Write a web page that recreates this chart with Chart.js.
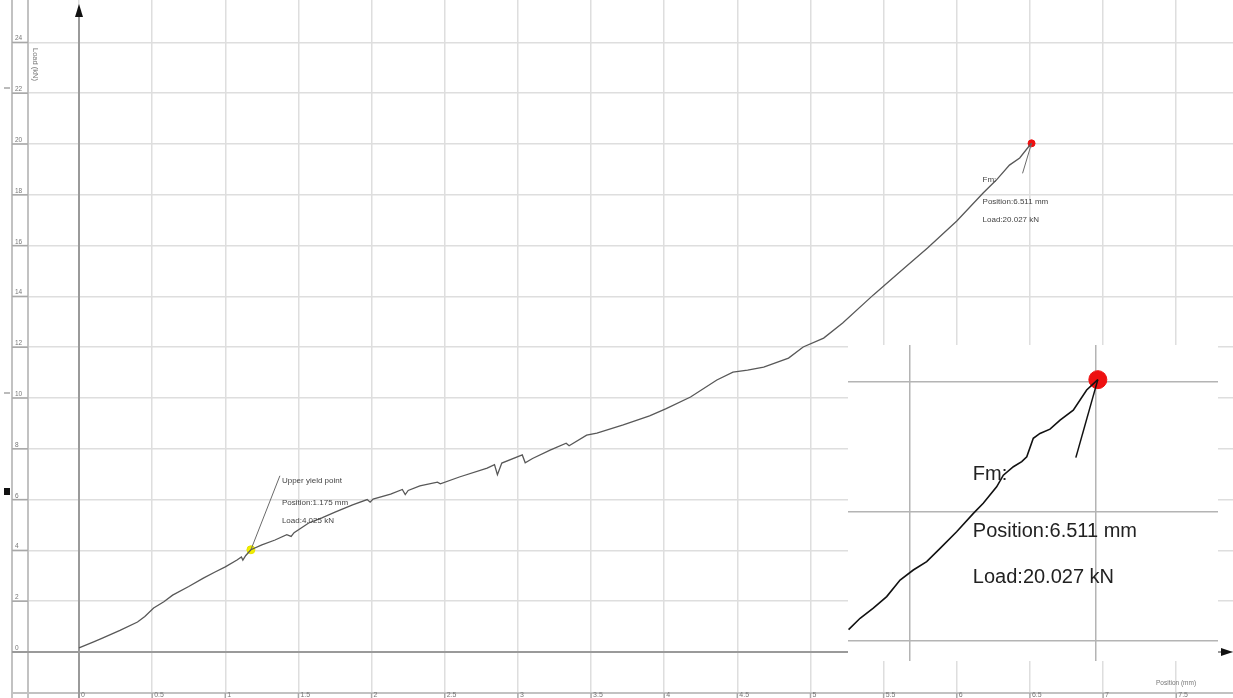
<!DOCTYPE html>
<html>
<head>
<meta charset="utf-8">
<script src="https://cdn.jsdelivr.net/npm/chart.js@4.4.1/dist/chart.umd.min.js"></script>
<style>
  html, body { margin: 0; padding: 0; background: #fff; overflow: hidden; }
  #wrap { position: relative; width: 1233px; height: 698px; }
  #main { position: absolute; left: 0; top: 0; }
  #zoom { position: absolute; left: 848px; top: 345px; background: #fff; }
</style>
</head>
<body>
<div id="wrap">
  <canvas id="main" width="1233" height="698"></canvas>
  <canvas id="zoom" width="370" height="316"></canvas>
</div>
<script>
// Tensile test record: crosshead position (mm) against load (kN)
const positionMm = [
  0.00, 0.10, 0.16, 0.28, 0.40, 0.45, 0.51, 0.58, 0.64, 0.75,
  0.85, 0.93, 1.00, 1.08, 1.11, 1.12, 1.14, 1.175, 1.25, 1.34,
  1.42, 1.45, 1.47, 1.57, 1.66, 1.75, 1.87, 1.97, 1.99, 2.01,
  2.13, 2.21, 2.23, 2.25, 2.33, 2.45, 2.47, 2.60, 2.79, 2.84,
  2.86, 2.89, 3.03, 3.05, 3.10, 3.22, 3.33, 3.35, 3.47, 3.54,
  3.72, 3.90, 4.01, 4.18, 4.36, 4.47, 4.57, 4.68, 4.85, 4.95,
  5.09, 5.22, 5.43, 5.61, 5.80, 6.00, 6.18, 6.27, 6.36, 6.43,
  6.50, 6.511
];
const loadKn = [
  0.16, 0.40, 0.55, 0.85, 1.18, 1.40, 1.73, 1.98, 2.24, 2.58,
  2.91, 3.15, 3.35, 3.62, 3.74, 3.62, 3.80, 4.025, 4.22, 4.41,
  4.62, 4.55, 4.70, 5.08, 5.28, 5.51, 5.79, 6.00, 5.90, 6.02,
  6.22, 6.40, 6.20, 6.36, 6.54, 6.69, 6.62, 6.89, 7.24, 7.38,
  6.98, 7.44, 7.76, 7.45, 7.62, 7.95, 8.22, 8.12, 8.54, 8.62,
  8.94, 9.30, 9.57, 10.04, 10.71, 11.02, 11.10, 11.22, 11.57, 12.01,
  12.36, 12.95, 14.06, 14.96, 15.91, 16.97, 18.07, 18.58, 19.17, 19.45,
  19.96, 20.027
];

// Axis ticks
const xTickValues = [0, 0.5, 1, 1.5, 2, 2.5, 3, 3.5, 4, 4.5, 5, 5.5, 6, 6.5, 7, 7.5];
const xTickLabels = ['0', '0.5', '1', '1.5', '2', '2.5', '3', '3.5', '4', '4.5', '5', '5.5', '6', '6.5', '7', '7.5'];
const yTickValues = [0, 2, 4, 6, 8, 10, 12, 14, 16, 18, 20, 22, 24];
const yTickLabels = ['0', '2', '4', '6', '8', '10', '12', '14', '16', '18', '20', '22', '24'];

// Marked points
const yieldPos = [1.175];
const yieldLoad = [4.025];
const yieldText = ['Upper yield point', 'Position:1.175 mm', 'Load:4.025 kN'];
const maxPos = [6.511];
const maxLoad = [20.027];
const maxText = ['Fm:', 'Position:6.511 mm', 'Load:20.027 kN'];

// Magnified view around the maximum force
const zoomPositionMm = [
  6.3770, 6.3832, 6.3903, 6.3975, 6.4047, 6.4118, 6.4190, 6.4262, 6.4351, 6.4441,
  6.4494, 6.4566, 6.4602, 6.4656, 6.4701, 6.4728, 6.4763, 6.4799, 6.4853, 6.4907,
  6.4978, 6.5050, 6.511
];
const zoomLoadKn = [
  19.255, 19.290, 19.321, 19.357, 19.408, 19.439, 19.465, 19.506, 19.557, 19.614,
  19.645, 19.696, 19.732, 19.758, 19.774, 19.789, 19.846, 19.861, 19.874, 19.902,
  19.933, 19.995, 20.027
];
const zoomGridX = [6.41, 6.51];
const zoomGridY = [19.22, 19.62, 20.02];

const FONT = '"Liberation Sans", Arial, sans-serif';

const frame = {
  id: 'frame',
  beforeDatasetsDraw(chart) {
    const { ctx } = chart;
    const xs = chart.scales.x, ys = chart.scales.y;
    const W = chart.width, H = chart.height;
    const x0 = xs.getPixelForValue(0);
    const y0 = ys.getPixelForValue(0);
    ctx.save();

    // left label strip and bottom label strip
    ctx.strokeStyle = '#c2c2c2';
    ctx.lineWidth = 2;
    ctx.beginPath();
    ctx.moveTo(12, 0); ctx.lineTo(12, H);
    ctx.moveTo(28, 0); ctx.lineTo(28, H);
    ctx.moveTo(12, 693); ctx.lineTo(W, 693);
    ctx.stroke();

    ctx.strokeStyle = '#a8a8a8';
    ctx.lineWidth = 1.5;
    ctx.fillStyle = '#777';
    ctx.font = '6.5px ' + FONT;
    ctx.textBaseline = 'alphabetic';
    yTickValues.forEach((v, i) => {
      const py = ys.getPixelForValue(v);
      ctx.beginPath(); ctx.moveTo(12, py); ctx.lineTo(28, py); ctx.stroke();
      ctx.fillText(yTickLabels[i], 15, py - 2);
    });
    ctx.font = '7px ' + FONT;
    ctx.textBaseline = 'top';
    xTickValues.forEach((v, i) => {
      const px = xs.getPixelForValue(v);
      ctx.beginPath(); ctx.moveTo(px, 693); ctx.lineTo(px, H); ctx.stroke();
      ctx.fillText(xTickLabels[i], px + 2, 692);
    });

    // axis titles
    ctx.fillStyle = '#777';
    ctx.font = '6.5px ' + FONT;
    ctx.textBaseline = 'alphabetic';
    ctx.fillText('Position (mm)', 1156, 685);
    ctx.save();
    ctx.translate(33, 48);
    ctx.rotate(Math.PI / 2);
    ctx.font = '7.5px ' + FONT;
    ctx.fillText('Load (kN)', 0, 0);
    ctx.restore();

    // origin axes with arrows
    ctx.strokeStyle = '#9a9a9a';
    ctx.lineWidth = 2;
    ctx.beginPath();
    ctx.moveTo(x0, 14); ctx.lineTo(x0, H);
    ctx.moveTo(12, y0); ctx.lineTo(1224, y0);
    ctx.stroke();
    ctx.fillStyle = '#111';
    ctx.beginPath();
    ctx.moveTo(x0, 4); ctx.lineTo(x0 - 4, 17); ctx.lineTo(x0 + 4, 17); ctx.closePath(); ctx.fill();
    ctx.beginPath();
    ctx.moveTo(1233, y0); ctx.lineTo(1221, y0 - 4); ctx.lineTo(1221, y0 + 4); ctx.closePath(); ctx.fill();

    // slider handles on the left edge
    ctx.fillStyle = '#bbb';
    ctx.fillRect(4, 87, 6, 2);
    ctx.fillRect(4, 392, 6, 2);
    ctx.fillStyle = '#111';
    ctx.fillRect(4, 488, 6, 7);
    ctx.restore();
  },
  afterDatasetsDraw(chart) {
    const { ctx } = chart;
    const xs = chart.scales.x, ys = chart.scales.y;
    ctx.save();
    ctx.strokeStyle = '#6a6a6a';
    ctx.lineWidth = 1;
    ctx.fillStyle = '#444';
    ctx.font = '8px ' + FONT;
    ctx.textBaseline = 'alphabetic';

    // upper yield point note
    const yx = xs.getPixelForValue(yieldPos[0]);
    const yy = ys.getPixelForValue(yieldLoad[0]);
    ctx.beginPath(); ctx.moveTo(yx, yy); ctx.lineTo(yx + 29, yy - 74); ctx.stroke();
    yieldText.forEach((t, i) => ctx.fillText(t, yx + 31, yy - 67 + [0, 22, 40][i]));

    // maximum force note
    const mx = xs.getPixelForValue(maxPos[0]);
    const my = ys.getPixelForValue(maxLoad[0]);
    ctx.beginPath(); ctx.moveTo(mx, my); ctx.lineTo(mx - 9, my + 30); ctx.stroke();
    maxText.forEach((t, i) => ctx.fillText(t, mx - 49, my + 39 + [0, 22, 40][i]));
    ctx.restore();
  }
};

new Chart(document.getElementById('main'), {
  type: 'scatter',
  data: {
    datasets: [
      {
        data: positionMm.map((p, i) => ({ x: p, y: loadKn[i] })),
        showLine: true,
        borderColor: '#585858',
        borderWidth: 1.3,
        pointRadius: 0,
        tension: 0
      },
      {
        data: yieldPos.map((p, i) => ({ x: p, y: yieldLoad[i] })),
        pointRadius: 4,
        pointBackgroundColor: '#f2ee00',
        pointBorderColor: '#e6e200',
        pointBorderWidth: 1
      },
      {
        data: maxPos.map((p, i) => ({ x: p, y: maxLoad[i] })),
        pointRadius: 3.5,
        pointBackgroundColor: '#ee1111',
        pointBorderColor: '#ee1111',
        pointBorderWidth: 1
      }
    ]
  },
  options: {
    responsive: false,
    animation: false,
    devicePixelRatio: 1,
    layout: { autoPadding: false, padding: { left: 12, right: 0, top: 0, bottom: 5 } },
    plugins: { legend: { display: false }, tooltip: { enabled: false } },
    scales: {
      x: {
        type: 'linear',
        min: -0.458,
        max: 7.888,
        afterBuildTicks: s => { s.ticks = xTickValues.map(v => ({ value: v })); },
        grid: { color: '#dedede', lineWidth: 1.5, drawTicks: false },
        border: { display: false },
        ticks: { display: false }
      },
      y: {
        type: 'linear',
        min: -1.614,
        max: 25.67,
        afterBuildTicks: s => { s.ticks = yTickValues.map(v => ({ value: v })); },
        grid: { color: '#dedede', lineWidth: 1.5, drawTicks: false },
        border: { display: false },
        ticks: { display: false }
      }
    }
  },
  plugins: [frame]
});

const zoomNotes = {
  id: 'zoomNotes',
  afterDatasetsDraw(chart) {
    const { ctx } = chart;
    const xs = chart.scales.x, ys = chart.scales.y;
    const mx = xs.getPixelForValue(maxPos[0]);
    const my = ys.getPixelForValue(maxLoad[0]);
    ctx.save();
    ctx.strokeStyle = '#111';
    ctx.lineWidth = 1.5;
    ctx.beginPath(); ctx.moveTo(mx, my); ctx.lineTo(mx - 22, my + 78); ctx.stroke();
    ctx.fillStyle = '#222';
    ctx.font = '20px ' + FONT;
    ctx.textBaseline = 'alphabetic';
    maxText.forEach((t, i) => ctx.fillText(t, mx - 125, my + 100 + [0, 57, 103][i]));
    ctx.restore();
  }
};

new Chart(document.getElementById('zoom'), {
  type: 'scatter',
  data: {
    datasets: [
      {
        data: zoomPositionMm.map((p, i) => ({ x: p, y: zoomLoadKn[i] })),
        showLine: true,
        borderColor: '#111',
        borderWidth: 1.6,
        pointRadius: 0,
        tension: 0
      },
      {
        data: maxPos.map((p, i) => ({ x: p, y: maxLoad[i] })),
        pointRadius: 9,
        pointBackgroundColor: '#ee1111',
        pointBorderColor: '#ee1111',
        pointBorderWidth: 1
      }
    ]
  },
  options: {
    responsive: false,
    animation: false,
    devicePixelRatio: 1,
    layout: { autoPadding: false, padding: 0 },
    plugins: { legend: { display: false }, tooltip: { enabled: false } },
    scales: {
      x: {
        type: 'linear',
        min: 6.3767,
        max: 6.5756,
        afterBuildTicks: s => { s.ticks = zoomGridX.map(v => ({ value: v })); },
        grid: { color: '#b4b4b4', lineWidth: 1.5, drawTicks: false },
        border: { display: false },
        ticks: { display: false }
      },
      y: {
        type: 'linear',
        min: 19.158,
        max: 20.134,
        afterBuildTicks: s => { s.ticks = zoomGridY.map(v => ({ value: v })); },
        grid: { color: '#b4b4b4', lineWidth: 1.5, drawTicks: false },
        border: { display: false },
        ticks: { display: false }
      }
    }
  },
  plugins: [zoomNotes]
});
</script>
</body>
</html>
